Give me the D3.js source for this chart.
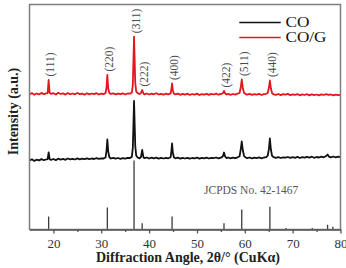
<!DOCTYPE html>
<html>
<head>
<meta charset="utf-8">
<script src="https://cdn.jsdelivr.net/npm/d3@7"></script>
<style>
  body { margin: 0; background: #fff; }
  svg { display: block; }
  text { font-family: "Liberation Serif", "Times New Roman", serif; }
</style>
</head>
<body>
<div id="chart"></div>
<script>
// ---- Data ----------------------------------------------------------------
// traces: [2theta, intensity a.u.] relative to each pattern's own zero
var coGTrace = [
  [15.0,10.2],[15.5,11.4],[16.0,9.8],[16.5,11.0],[17.0,10.1],[17.5,11.6],[18.0,10.4],[18.5,11.2],
  [18.8,11.5],[19.0,24.5],[19.2,11.8],[19.5,10.6],[20.0,11.3],[20.5,10.0],[21.0,11.7],[21.5,10.5],
  [22.0,11.1],[22.5,9.9],[23.0,11.4],[23.5,10.3],[24.0,11.0],[24.5,10.2],[25.0,11.5],[25.5,10.4],
  [26.0,10.9],[26.5,9.8],[27.0,11.2],[27.5,10.1],[28.0,11.0],[28.5,10.3],[29.0,11.3],[29.5,10.0],
  [30.0,10.8],[30.5,10.4],[30.9,11.5],[31.1,17],[31.27,29.5],[31.45,16],[31.7,11.6],[32.0,10.6],
  [32.5,11.2],[33.0,10.1],[33.5,10.9],[34.0,10.3],[34.5,11.2],[35.0,10.0],[35.5,11.0],[36.0,10.8],
  [36.4,12.0],[36.6,20],[36.85,67.8],[37.1,22],[37.3,13],[37.6,11.4],[38.0,10.5],[38.3,11.5],
  [38.55,14.5],[38.8,11.2],[39.0,10.2],[39.5,11.0],[40.0,10.0],[40.5,10.8],[41.0,10.2],[41.5,11.3],
  [42.0,10.0],[42.5,10.7],[43.0,9.8],[43.5,10.9],[44.0,10.2],[44.5,11.2],[44.65,15],[44.8,21],
  [44.95,14],[45.2,10.8],[45.5,10.1],[46.0,10.9],[46.5,9.7],[47.0,10.6],[47.5,9.9],[48.0,10.8],
  [48.5,9.6],[49.0,10.5],[49.5,9.8],[50.0,10.9],[50.5,9.5],[51.0,10.4],[51.5,9.9],[52.0,10.7],
  [52.5,9.6],[53.0,10.6],[53.5,10.0],[54.0,10.9],[54.5,9.8],[55.0,10.7],[55.4,11.2],[55.65,13.5],
  [55.9,11.0],[56.2,10.0],[56.5,10.6],[57.0,9.7],[57.5,10.5],[58.0,9.9],[58.5,10.8],[58.9,11.5],
  [59.15,17],[59.36,25],[59.6,16],[59.85,11.6],[60.2,10.4],[60.5,9.8],[61.0,10.6],[61.5,9.6],
  [62.0,10.4],[62.5,9.9],[63.0,10.7],[63.5,9.5],[64.0,10.3],[64.5,10.6],[64.8,11.8],[65.05,17],
  [65.24,24],[65.45,16],[65.7,11.4],[66.0,10.2],[66.5,9.7],[67.0,10.5],[67.5,9.4],[68.0,10.3],
  [68.5,9.8],[69.0,10.6],[69.5,9.3],[70.0,10.2],[70.5,9.6],[71.0,10.4],[71.5,9.2],[72.0,10.1],
  [72.5,9.5],[73.0,10.3],[73.5,9.1],[74.0,10.2],[74.5,9.4],[75.0,10.0],[75.5,9.2],[76.0,10.1],
  [76.5,9.5],[77.0,10.3],[77.5,9.6],[78.0,10.0],[78.5,9.1],[79.0,9.9],[79.5,9.3],[80.0,9.7]
];

var coTrace = [
  [15.0,9.0],[15.5,10.2],[16.0,8.6],[16.5,9.8],[17.0,9.1],[17.5,10.4],[18.0,9.3],[18.5,10.0],
  [18.8,10.4],[19.0,17],[19.2,10.6],[19.5,9.6],[20.0,10.5],[20.5,9.4],[21.0,10.8],[21.5,9.9],
  [22.0,10.6],[22.5,9.7],[23.0,11.0],[23.5,10.1],[24.0,10.7],[24.5,10.0],[25.0,11.1],[25.5,10.2],
  [26.0,10.9],[26.5,10.3],[27.0,11.2],[27.5,10.4],[28.0,11.0],[28.5,10.5],[29.0,11.3],[29.5,10.6],
  [30.0,11.1],[30.5,11.0],[30.9,12.0],[31.1,19],[31.27,30],[31.45,18],[31.7,12.2],[32.0,11.0],
  [32.5,11.6],[33.0,10.8],[33.5,11.5],[34.0,10.7],[34.5,11.4],[35.0,10.9],[35.5,11.6],[36.0,11.5],
  [36.4,12.8],[36.6,22],[36.85,68.5],[37.1,24],[37.3,14],[37.6,12.0],[38.0,11.2],[38.3,12.5],
  [38.55,19.5],[38.8,12.4],[39.0,11.3],[39.5,12.0],[40.0,11.0],[40.5,11.8],[41.0,11.1],[41.5,11.9],
  [42.0,10.9],[42.5,11.6],[43.0,11.0],[43.5,11.7],[44.0,11.2],[44.5,12.3],[44.65,18],[44.8,26],
  [44.95,17],[45.2,12.0],[45.5,11.2],[46.0,11.8],[46.5,10.9],[47.0,11.6],[47.5,11.0],[48.0,11.7],
  [48.5,10.8],[49.0,11.5],[49.5,11.1],[50.0,11.8],[50.5,10.9],[51.0,11.6],[51.5,11.2],[52.0,11.9],
  [52.5,11.0],[53.0,11.7],[53.5,11.3],[54.0,12.0],[54.5,11.1],[55.0,11.9],[55.4,13.0],[55.65,17],
  [55.9,12.8],[56.2,11.4],[56.5,12.0],[57.0,11.1],[57.5,11.8],[58.0,11.3],[58.5,12.2],[58.9,13.2],
  [59.15,20],[59.36,28],[59.6,19],[59.85,13.4],[60.2,12.0],[60.5,11.3],[61.0,12.0],[61.5,11.2],
  [62.0,11.9],[62.5,11.4],[63.0,12.1],[63.5,11.2],[64.0,12.0],[64.5,12.4],[64.8,14],[65.05,21],
  [65.24,31],[65.45,20],[65.7,13.6],[66.0,12.4],[66.5,11.6],[67.0,12.3],[67.5,11.5],[68.0,12.2],
  [68.5,11.8],[69.0,12.5],[69.5,11.6],[70.0,12.3],[70.5,11.7],[71.0,12.6],[71.5,11.5],[72.0,12.4],
  [72.5,11.8],[73.0,12.7],[73.5,11.9],[74.0,12.8],[74.5,11.7],[75.0,12.5],[75.5,12.0],[76.0,12.9],
  [76.5,12.2],[77.0,13.5],[77.3,15],[77.6,12.8],[78.0,12.1],[78.5,13.0],[79.0,12.2],[79.5,12.8],
  [80.0,12.3]
];

// JCPDS 42-1467 reference lines: [2theta, relative intensity %]
var jcpdsLines = [
  [19.0,19],[31.27,32],[36.85,100],[38.55,9],[44.8,19],[55.65,9],
  [59.36,29],[65.24,33],[68.6,2],[74.1,2],[77.3,7],[78.4,4]
];

var hklLabels = ['(111)','(220)','(311)','(222)','(400)','(422)','(511)','(440)'];
var hklAngles = [19.0, 31.27, 36.85, 38.55, 44.8, 55.65, 59.36, 65.24];

var xTicks = [20, 30, 40, 50, 60, 70, 80];
var xMinorTicks = [25, 35, 45, 55, 65, 75];
var seriesNames = ['CO', 'CO/G'];

// ---- Layout ----------------------------------------------------------------
var W = 346, H = 268;
var plot = { left: 29.5, right: 340.5, top: 4.5, bottom: 229.5 };
var OFFSET_CO = 60, OFFSET_COG = 125;
var COLOR_CO = '#111', COLOR_COG = '#e3161e';

var svg = d3.select('#chart').append('svg')
  .attr('width', W).attr('height', H)
  .style('background', '#fff');

var x = d3.scaleLinear().domain([15, 80]).range([plot.left, plot.right]);
var y = d3.scaleLinear().domain([0, 225]).range([plot.bottom, plot.top]);
var stickH = d3.scaleLinear().domain([0, 100]).range([0, 69]);

svg.append('clipPath').attr('id', 'clip').append('rect')
  .attr('x', plot.left).attr('y', plot.top)
  .attr('width', plot.right - plot.left).attr('height', plot.bottom - plot.top);

var g = svg.append('g').attr('clip-path', 'url(#clip)');

// reference sticks
g.selectAll('line.ref').data(jcpdsLines).enter().append('line')
  .attr('class', 'ref')
  .attr('x1', function(d) { return x(d[0]); })
  .attr('x2', function(d) { return x(d[0]); })
  .attr('y1', y(0))
  .attr('y2', function(d) { return y(stickH(d[1])); })
  .attr('stroke', '#3a3a3a').attr('stroke-width', 1.3);

function drawTrace(data, offset, color) {
  var line = d3.line()
    .x(function(d) { return x(d[0]); })
    .y(function(d) { return y(d[1] + offset); });
  g.append('path').datum(data)
    .attr('d', line)
    .attr('fill', 'none')
    .attr('stroke', color)
    .attr('stroke-width', 1.8)
    .attr('stroke-linejoin', 'round');
}
drawTrace(coTrace, OFFSET_CO, COLOR_CO);
drawTrace(coGTrace, OFFSET_COG, COLOR_COG);

// hkl labels above the CO/G peaks
hklLabels.forEach(function(lbl, i) {
  var a = hklAngles[i];
  var top = d3.max(coGTrace.filter(function(d) { return Math.abs(d[0] - a) < 0.3; }),
    function(d) { return d[1]; });
  svg.append('text')
    .attr('transform', 'translate(' + (x(a) + 1.8) + ',' + (y(top + OFFSET_COG) - 3.5) + ') rotate(-90)')
    .attr('dominant-baseline', 'central')
    .attr('font-size', 11.5)
    .attr('fill', '#4a4a4a')
    .text(lbl);
});

// frame
svg.append('rect')
  .attr('x', plot.left).attr('y', plot.top)
  .attr('width', plot.right - plot.left).attr('height', plot.bottom - plot.top)
  .attr('fill', 'none').attr('stroke', '#7d7d7d').attr('stroke-width', 1.5);

// x axis
var xAxis = svg.append('g').attr('transform', 'translate(0,' + plot.bottom + ')')
  .call(d3.axisBottom(x).tickValues(xTicks).tickSize(4).tickSizeOuter(0).tickPadding(5));
svg.append('g').attr('transform', 'translate(0,' + plot.bottom + ')')
  .call(d3.axisBottom(x).tickValues(xMinorTicks).tickSize(2.5).tickSizeOuter(0).tickFormat(''))
  .select('.domain').remove();
xAxis.select('.domain').attr('stroke', '#555').attr('stroke-width', 1.6);
svg.selectAll('.tick line').attr('stroke', '#555').attr('stroke-width', 1.3);
xAxis.selectAll('.tick text')
  .attr('font-family', '"Liberation Serif", "Times New Roman", serif')
  .attr('font-size', 13).attr('fill', '#333');

// axis titles
svg.append('text')
  .attr('x', 188).attr('y', 261.5)
  .attr('text-anchor', 'middle')
  .attr('font-size', 14).attr('font-weight', 'bold').attr('fill', '#222')
  .text('Diffraction Angle, 2\u03b8/\u00b0 (CuK\u03b1)');

svg.append('text')
  .attr('transform', 'translate(17.5,111.5) rotate(-90)')
  .attr('text-anchor', 'middle')
  .attr('font-size', 14).attr('font-weight', 'bold').attr('fill', '#222')
  .text('Intensity (a.u.)');

// JCPDS caption
svg.append('text')
  .attr('x', 204).attr('y', 194)
  .attr('font-size', 11.5).attr('fill', '#555')
  .text('JCPDS No. 42-1467');

// legend
var legendWidths = [24, 41];
var legend = svg.append('g');
seriesNames.forEach(function(name, i) {
  var ly = 22.5 + i * 15;
  legend.append('line')
    .attr('x1', 239.3).attr('x2', 280.7).attr('y1', ly).attr('y2', ly)
    .attr('stroke', i === 0 ? COLOR_CO : COLOR_COG).attr('stroke-width', 1.6);
  legend.append('text')
    .attr('x', 285.5).attr('y', ly + 4)
    .attr('font-size', 14.5).attr('fill', '#111')
    .attr('textLength', legendWidths[i]).attr('lengthAdjust', 'spacingAndGlyphs')
    .text(name);
});
</script>
</body>
</html>
